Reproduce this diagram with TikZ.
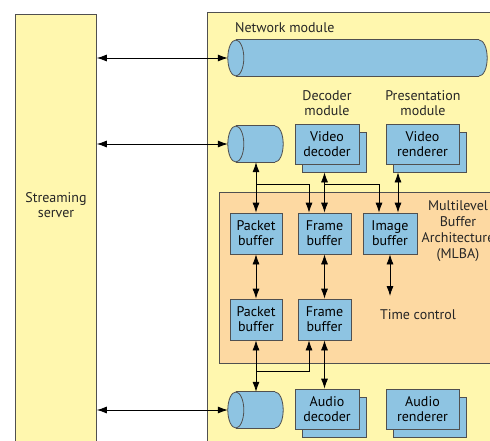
\documentclass[tikz,border=0pt]{standalone}
\usepackage{fontspec}
\setmainfont{PT Sans}
\usetikzlibrary{arrows.meta}

\definecolor{paleyellow}{HTML}{FFF7AE}
\definecolor{buforange}{HTML}{FDD9A2}
\definecolor{tubeblue}{HTML}{8EC4E2}
\definecolor{edgegray}{HTML}{505050}

% cylinder drawn around an invisible rectangular node (axis horizontal)
\newcommand\tubeshape[1]{%
  \draw[edge, fill=tubeblue] ([xshift=-8pt]#1.east) ellipse [x radius=8pt, y radius=18pt];
  \fill[tubeblue] ([xshift=8pt]#1.north west) rectangle ([xshift=-8pt]#1.south east);
  \draw[edge] ([xshift=8pt]#1.north west) -- ([xshift=-8pt]#1.north east)
              ([xshift=8pt]#1.south west) -- ([xshift=-8pt]#1.south east);
  \draw[edge, fill=tubeblue] ([xshift=8pt]#1.west) ellipse [x radius=8pt, y radius=18pt];
}

\begin{document}
\begin{tikzpicture}[x=1pt, y=-1pt,
  font=\fontsize{14}{15}\selectfont,
  edge/.style={draw=edgegray, line width=0.8pt},
  panel/.style={edge, fill=paleyellow},
  bluebox/.style={edge, fill=tubeblue, inner sep=0pt, align=center},
  tubebox/.style={inner sep=0pt, minimum height=36pt},
  biarrow/.style={line width=0.8pt, {Latex[length=10pt,width=7pt]}-{Latex[length=10pt,width=7pt]}},
  onearrow/.style={line width=0.8pt, -{Latex[length=10pt,width=7pt]}},
  label/.style={align=center, text=black!85, inner sep=0pt}]
\useasboundingbox (0,0) rectangle (490,440);

% outer panels
\draw[panel] (207,12) rectangle (500,450);
\node[panel, minimum width=81pt, minimum height=440pt, anchor=north west, inner sep=0pt] (srv) at (15,14) {};
\node[label] at (56,205) {Streaming\\server};
\draw[edge, fill=buforange] (219,192) rectangle (500,363);

% network module
\node[label, anchor=west] (netlbl) at (235,28) {Network module};
\node[tubebox, minimum width=259pt] (net) at (357.5,58) {};
\tubeshape{net}
\node[tubebox, minimum width=55pt] (vtube) at (255.5,144) {};
\tubeshape{vtube}
\node[tubebox, minimum width=55pt] (atube) at (255.5,410) {};
\tubeshape{atube}

% decoder / presentation modules
\node[label] at (327,103.5) {Decoder\\module};
\node[label] at (423,103.5) {Presentation\\module};
\node[bluebox, minimum width=64pt, minimum height=40pt] (vdecB) at (334,152) {};
\node[bluebox, minimum width=64pt, minimum height=40pt] (vdec) at (327,144) {Video\\decoder};
\node[bluebox, minimum width=73pt, minimum height=40pt] (vrenB) at (429.5,152) {};
\node[bluebox, minimum width=73pt, minimum height=40pt] (vren) at (422.5,144) {Video\\renderer};
\node[bluebox, minimum width=64pt, minimum height=40pt] (adecB) at (334,417) {};
\node[bluebox, minimum width=64pt, minimum height=40pt] (adec) at (327,409) {Audio\\decoder};
\node[bluebox, minimum width=73pt, minimum height=40pt] (arenB) at (429.5,417) {};
\node[bluebox, minimum width=73pt, minimum height=40pt] (aren) at (422.5,409) {Audio\\renderer};

% multilevel buffer architecture
\node[bluebox, minimum width=52pt, minimum height=41pt] (pb1) at (256,233.5) {Packet\\buffer};
\node[bluebox, minimum width=53pt, minimum height=41pt] (fb1) at (324.5,233.5) {Frame\\buffer};
\node[bluebox, minimum width=54pt, minimum height=41pt] (ib) at (390,233.5) {Image\\buffer};
\node[bluebox, minimum width=52pt, minimum height=41pt] (pb2) at (256,319.5) {Packet\\buffer};
\node[bluebox, minimum width=53pt, minimum height=41pt] (fb2) at (324.5,319.5) {Frame\\buffer};
\node[label, font=\fontsize{14}{16}\selectfont] at (458,231) {Multilevel\\Buffer\\Architecture\\(MLBA)};
\node[label] (tc) at (418,315) {Time control};
\coordinate (tcarrow) at (390,296);

% links to the streaming server
\draw[biarrow] (net.west) -- (net.west -| srv.east);
\draw[biarrow] (vtube.west) -- (vtube.west -| srv.east);
\draw[biarrow] (atube.west) -- (atube.west -| srv.east);

% video path
\draw[biarrow] (pb1.north) -- (pb1.north |- vtube.south);
\draw[onearrow] (256,184) -| ([xshift=-15.5pt]fb1.north);
\draw[biarrow] (fb1.north) -- (fb1.north |- vdecB.south);
\draw[onearrow] (324.5,184) -| ([xshift=-11pt]ib.north);
\draw[biarrow] ([xshift=8pt]ib.north) -- ([xshift=8pt]ib.north |- vrenB.south);
\draw[biarrow] (pb1.south) -- (pb2.north);
\draw[biarrow] (fb1.south) -- (fb2.north);
\draw[biarrow] (ib.south) -- (tcarrow);

% audio path
\draw[biarrow] (pb2.south) -- (pb2.south |- atube.north);
\draw[onearrow] (256,371) -| ([xshift=-15.5pt]fb2.south);
\draw[biarrow] (fb2.south) -- (fb2.south |- adec.north);
\end{tikzpicture}
\end{document}
